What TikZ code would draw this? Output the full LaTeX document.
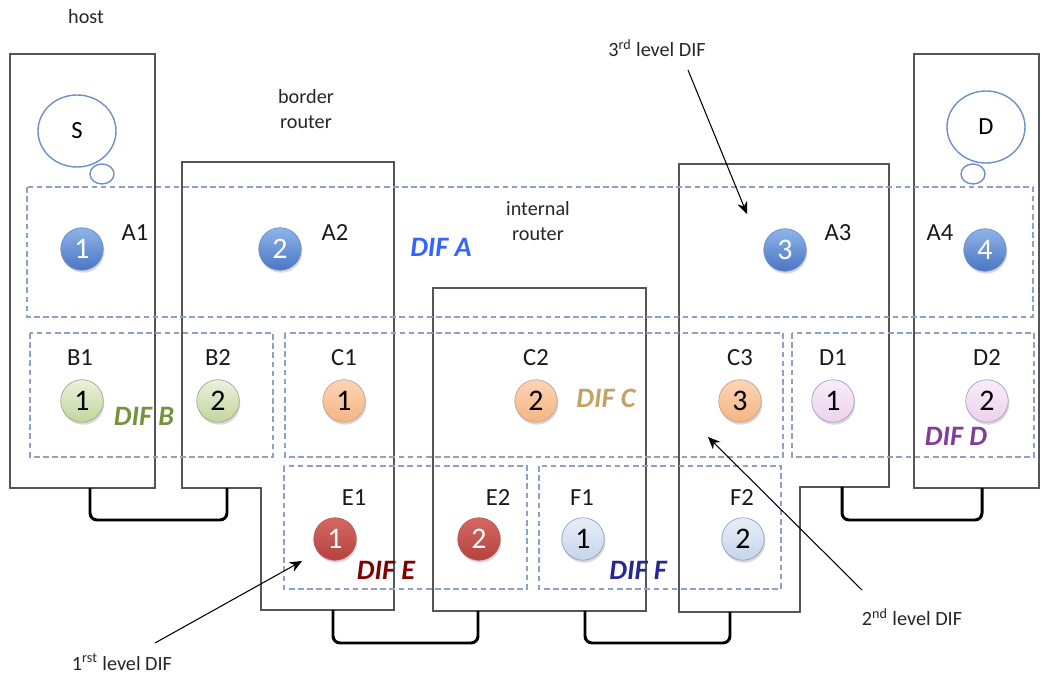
\documentclass[tikz,border=0pt]{standalone}
\usepackage{fontspec}
\setmainfont{Carlito}
\usetikzlibrary{shadows,arrows.meta}

\definecolor{router}{HTML}{555555}
\definecolor{difline}{HTML}{8EA2C6}
\definecolor{bubble}{HTML}{6E8FC8}
\definecolor{difA}{HTML}{3366FF}
\definecolor{difB}{HTML}{76923C}
\definecolor{difC}{HTML}{C3A266}
\definecolor{difD}{HTML}{7F3F98}
\definecolor{difE}{HTML}{800000}
\definecolor{difF}{HTML}{262696}
\definecolor{aTop}{HTML}{8EB4E8}
\definecolor{aBot}{HTML}{4A76C4}
\definecolor{aRim}{HTML}{6E8CC8}
\definecolor{bTop}{HTML}{EAF1DD}
\definecolor{bBot}{HTML}{C3D69B}
\definecolor{bRim}{HTML}{9BAA8C}
\definecolor{cTop}{HTML}{FCD5B5}
\definecolor{cBot}{HTML}{F5B482}
\definecolor{cRim}{HTML}{BEA596}
\definecolor{dTop}{HTML}{FAECFA}
\definecolor{dBot}{HTML}{ECD2EC}
\definecolor{dRim}{HTML}{A0A0C3}
\definecolor{eTop}{HTML}{D46862}
\definecolor{eBot}{HTML}{B4423E}
\definecolor{eRim}{HTML}{B95A5A}
\definecolor{fTop}{HTML}{E8EEF8}
\definecolor{fBot}{HTML}{C6D5EA}
\definecolor{fRim}{HTML}{8CA0C4}

\tikzset{
  box/.style={draw=router, line width=0.8pt},
  dif/.style={draw=difline, line width=0.8pt, dash pattern=on 3.2pt off 2pt},
  ipcp/.style={circle, minimum size=0.85cm, inner sep=0pt,
    font=\fontsize{17}{17}\selectfont,
    drop shadow={opacity=0.3, shadow xshift=0.6pt, shadow yshift=-1.4pt}},
  ipcA/.style={ipcp, top color=aTop, bottom color=aBot, draw=aRim, text=white},
  ipcB/.style={ipcp, top color=bTop, bottom color=bBot, draw=bRim, text=black},
  ipcC/.style={ipcp, top color=cTop, bottom color=cBot, draw=cRim, text=black},
  ipcD/.style={ipcp, top color=dTop, bottom color=dBot, draw=dRim, text=black},
  ipcE/.style={ipcp, top color=eTop, bottom color=eBot, draw=eRim, text=white},
  ipcF/.style={ipcp, top color=fTop, bottom color=fBot, draw=fRim, text=black},
  pname/.style={font=\fontsize{14}{14}\selectfont, text=black!90},
  diflbl/.style={font=\fontsize{16}{16}\selectfont\bfseries\itshape},
  note/.style={font=\fontsize{11.5}{14}\selectfont, align=center, text=black!85},
  applbl/.style={font=\fontsize{14}{14}\selectfont},
  link/.style={line width=1.7pt, rounded corners=4pt},
  pointer/.style={line width=0.6pt, -{Stealth[length=7pt,width=6pt]}},
  bub/.style={draw=bubble, line width=0.8pt}
}

\begin{document}
\begin{tikzpicture}[x=0.02cm, y=-0.02cm]
\useasboundingbox (0,0) rectangle (1042,675);

% hosts and routers
\draw[box] (10,54) rectangle (155,488);
\draw[box] (182,162) -- (394,162) -- (394,610) -- (261,610) -- (261,488) -- (182,488) -- cycle;
\draw[box] (433,288) rectangle (646,611);
\draw[box] (679,164) -- (889,164) -- (889,487) -- (800,487) -- (800,612) -- (679,612) -- cycle;
\draw[box] (914,54) rectangle (1039,488);

% application bubbles
\draw[bub] (77,131) ellipse [x radius=39, y radius=36];
\draw[bub] (102,174) ellipse [x radius=12, y radius=10];
\node[applbl] (S) at (77,131) {S};
\draw[bub] (986,127) ellipse [x radius=39, y radius=36];
\draw[bub] (973,174) ellipse [x radius=12, y radius=10];
\node[applbl] (D) at (986,127) {D};

% DIF boundaries
\draw[dif] (27,187) rectangle (1033,317);
\draw[dif] (30,333) rectangle (273,457);
\draw[dif] (285,333) rectangle (783,457);
\draw[dif] (792,333) rectangle (1034,457);
\draw[dif] (284,466) rectangle (527,589);
\draw[dif] (539,466) rectangle (781,589);

% links between systems
\coordinate (l1a) at (90,488);  \coordinate (l1b) at (227,488);
\coordinate (l2a) at (333,610); \coordinate (l2b) at (478,611);
\coordinate (l3a) at (585,611); \coordinate (l3b) at (730,612);
\coordinate (l4a) at (842,487); \coordinate (l4b) at (982,488);
\draw[link] (l1a) -- ++(0,32) -| (l1b);
\draw[link] (l2a) -- ++(0,33) -| (l2b);
\draw[link] (l3a) -- ++(0,32) -| (l3b);
\draw[link] (l4a) -- ++(0,33) -| (l4b);

% IPC processes
\node[ipcA] (a1) at (82,249) {1};
\node[ipcA] (a2) at (280,249) {2};
\node[ipcA] (a3) at (785,250) {3};
\node[ipcA] (a4) at (985,250) {4};
\node[ipcB] (b1) at (82,401) {1};
\node[ipcB] (b2) at (218,401) {2};
\node[ipcC] (c1) at (344,401) {1};
\node[ipcC] (c2) at (536,401) {2};
\node[ipcC] (c3) at (740,401) {3};
\node[ipcD] (d1) at (833,401) {1};
\node[ipcD] (d2) at (987,401) {2};
\node[ipcE] (e1) at (335,539) {1};
\node[ipcE] (e2) at (479,539) {2};
\node[ipcF] (f1) at (583,539) {1};
\node[ipcF] (f2) at (743,539) {2};

% process names
\node[pname] (na1) at (135,233) {A1};
\node[pname] (na2) at (335,233) {A2};
\node[pname] (na3) at (838,233) {A3};
\node[pname] (na4) at (940,233) {A4};
\node[pname] (nb1) at (80,358) {B1};
\node[pname] (nb2) at (218,358) {B2};
\node[pname] (nc1) at (344,358) {C1};
\node[pname] (nc2) at (536,358) {C2};
\node[pname] (nc3) at (740,358) {C3};
\node[pname] (nd1) at (833,358) {D1};
\node[pname] (nd2) at (987,358) {D2};
\node[pname] (ne1) at (354,498) {E1};
\node[pname] (ne2) at (498,498) {E2};
\node[pname] (nf1) at (582,498) {F1};
\node[pname] (nf2) at (742,498) {F2};

% DIF names
\node[diflbl, text=difA] (dA) at (441,247) {DIF A};
\node[diflbl, text=difB] (dB) at (144,416) {DIF B};
\node[diflbl, text=difC] (dC) at (606,398) {DIF C};
\node[diflbl, text=difD] (dD) at (956,436) {DIF D};
\node[diflbl, text=difE] (dE) at (386,570) {DIF E};
\node[diflbl, text=difF] (dF) at (638,570) {DIF F};

% system captions
\node[note] (host) at (86,17) {host};
\node[note] (border) at (306,109) {border\\router};
\node[note] (internal) at (538,221) {internal\\router};

% level annotations
\node[note] (lv3) at (657,48) {3\textsuperscript{rd} level DIF};
\node[note] (lv2) at (912,617) {2\textsuperscript{nd} level DIF};
\node[note] (lv1) at (122,662) {1\textsuperscript{rst} level DIF};
\coordinate (p3s) at (688,70);  \coordinate (p3e) at (747,214);
\coordinate (p2s) at (862,590); \coordinate (p2e) at (708,437);
\coordinate (p1s) at (155,643); \coordinate (p1e) at (302,561);
\draw[pointer] (p3s) -- (p3e);
\draw[pointer] (p2s) -- (p2e);
\draw[pointer] (p1s) -- (p1e);
\end{tikzpicture}
\end{document}
